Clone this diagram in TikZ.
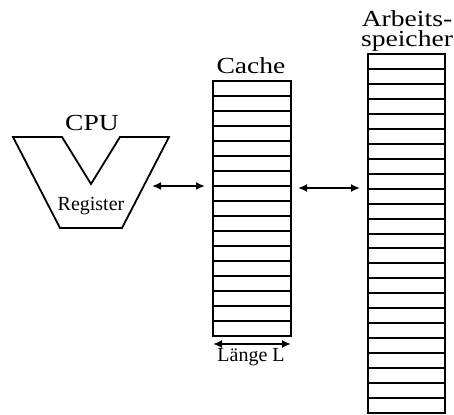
\documentclass[tikz,border=0pt]{standalone}
\usepackage{fontspec}
\setmainfont{Liberation Serif}
\newfontfamily\widefont[FakeStretch=1.2]{Liberation Serif}
\usetikzlibrary{arrows.meta}

\begin{document}
\begin{tikzpicture}[x=0.5pt, y=-0.5pt,
    box/.style={line width=1.1pt},
    row/.style={line width=1pt},
    link/.style={line width=0.9pt, {Latex[length=4.5pt,width=4pt]}-{Latex[length=4.5pt,width=4pt]}},
    biglabel/.style={anchor=base, inner sep=0pt, font=\widefont\fontsize{11.5}{10}\selectfont},
    smalllabel/.style={anchor=base, inner sep=0pt, font=\fontsize{10}{12}\selectfont}]
    \useasboundingbox (0,0) rectangle (454,415);

    % CPU
    \draw[line width=0.9pt, line join=miter] (13,137) -- (62,137) -- (91,184) -- (120,137) -- (169,137) -- (122,228) -- (60,228) -- cycle;
    \node[biglabel] (cpu) at (92,131) {CPU};
    \node[smalllabel] (register) at (91,211) {Register};

    % Cache: 17 lines
    \draw[box] (213,81) rectangle (291,336);
    \foreach \i in {1,...,16}
        \draw[row] (213,81+15*\i) -- (291,81+15*\i);
    \node[biglabel] (cache) at (251,74) {Cache};

    % Arbeitsspeicher: 24 lines
    \draw[box] (368,54) rectangle (445,413);
    \foreach \i in {1,...,23}
        \draw[row] (368,54+14.96*\i) -- (445,54+14.96*\i);
    \node[biglabel] (arbeits) at (407,27) {Arbeits-};
    \node[biglabel] (speicher) at (407,47) {speicher};

    % Connections
    \coordinate (cpuE) at (152,186);
    \coordinate (cacheW) at (205,186);
    \coordinate (cacheE) at (298,188);
    \coordinate (memW) at (360,188);
    \draw[link] (cpuE) -- (cacheW);
    \draw[link] (cacheE) -- (memW);

    % Line length
    \coordinate (laengeW) at (213,344);
    \coordinate (laengeE) at (291,344);
    \draw[link] (laengeW) -- (laengeE);
    \node[smalllabel] (laenge) at (251,362) {Länge L};
\end{tikzpicture}
\end{document}
